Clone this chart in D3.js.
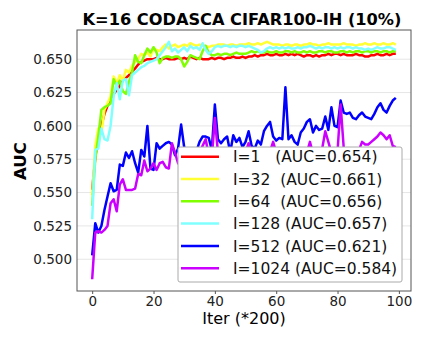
<!DOCTYPE html>
<html>
<head>
<meta charset="utf-8">
<script src="https://cdn.jsdelivr.net/npm/d3@7"></script>
<style>
  body { margin: 0; background: #fff; }
  text { font-family: 'DejaVu Sans', sans-serif; }
</style>
</head>
<body>
<div id="chart"></div>
<script>
// AUC per iteration (x = 0..99, unit *200 iters)
const iters = d3.range(0, 100);

const aucI1 = [
  0.552, 0.576, 0.592, 0.600, 0.609, 0.615, 0.620, 0.624, 0.627, 0.630,
  0.634, 0.636, 0.638, 0.641, 0.643, 0.646, 0.648, 0.649, 0.650, 0.650,
  0.650, 0.651, 0.650, 0.650, 0.651, 0.650, 0.650, 0.650, 0.651, 0.650,
  0.651, 0.650, 0.652, 0.651, 0.650, 0.651, 0.650, 0.650, 0.650, 0.651,
  0.650, 0.651, 0.651, 0.650, 0.651, 0.651, 0.652, 0.651, 0.651, 0.652,
  0.651, 0.652, 0.652, 0.653, 0.652, 0.653, 0.653, 0.654, 0.653, 0.653,
  0.654, 0.653, 0.653, 0.654, 0.653, 0.654, 0.653, 0.654, 0.653, 0.652,
  0.653, 0.653, 0.652, 0.653, 0.652, 0.653, 0.653, 0.654, 0.653, 0.654,
  0.654, 0.653, 0.654, 0.653, 0.653, 0.653, 0.654, 0.653, 0.653, 0.652,
  0.652, 0.653, 0.653, 0.654, 0.653, 0.653, 0.654, 0.653, 0.654, 0.654
];

const aucI32 = [
  0.548, 0.585, 0.598, 0.594, 0.612, 0.617, 0.622, 0.637, 0.632, 0.638,
  0.634, 0.642, 0.640, 0.645, 0.648, 0.650, 0.654, 0.653, 0.655, 0.652,
  0.658, 0.657, 0.656, 0.659, 0.661, 0.658, 0.660, 0.661, 0.659, 0.660,
  0.661, 0.660, 0.662, 0.661, 0.660, 0.661, 0.660, 0.660, 0.659, 0.660,
  0.660, 0.661, 0.661, 0.661, 0.660, 0.661, 0.661, 0.660, 0.661, 0.661,
  0.661, 0.662, 0.661, 0.661, 0.662, 0.661, 0.662, 0.663, 0.662, 0.661,
  0.661, 0.661, 0.660, 0.661, 0.661, 0.660, 0.661, 0.661, 0.660, 0.661,
  0.661, 0.662, 0.661, 0.661, 0.660, 0.661, 0.661, 0.662, 0.661, 0.661,
  0.661, 0.661, 0.662, 0.661, 0.661, 0.661, 0.660, 0.661, 0.661, 0.662,
  0.661, 0.661, 0.662, 0.661, 0.661, 0.662, 0.661, 0.661, 0.662, 0.661
];

const aucI64 = [
  0.540, 0.575, 0.592, 0.612, 0.614, 0.615, 0.617, 0.635, 0.630, 0.634,
  0.626, 0.624, 0.633, 0.640, 0.653, 0.648, 0.647, 0.653, 0.658, 0.655,
  0.659, 0.655, 0.647, 0.651, 0.652, 0.652, 0.651, 0.652, 0.652, 0.650,
  0.6445, 0.648, 0.653, 0.652, 0.651, 0.650, 0.656, 0.660, 0.655, 0.653,
  0.653, 0.654, 0.653, 0.654, 0.654, 0.653, 0.654, 0.655, 0.654, 0.654,
  0.654, 0.655, 0.656, 0.655, 0.656, 0.655, 0.655, 0.656, 0.655, 0.655,
  0.656, 0.655, 0.655, 0.656, 0.656, 0.655, 0.656, 0.655, 0.655, 0.656,
  0.655, 0.656, 0.655, 0.655, 0.656, 0.656, 0.655, 0.656, 0.656, 0.655,
  0.655, 0.656, 0.656, 0.655, 0.656, 0.655, 0.656, 0.656, 0.655, 0.656,
  0.656, 0.655, 0.656, 0.656, 0.655, 0.656, 0.656, 0.655, 0.656, 0.656
];

const aucI128 = [
  0.530, 0.582, 0.583, 0.598, 0.590, 0.589, 0.600, 0.622, 0.632, 0.620,
  0.634, 0.635, 0.623, 0.638, 0.640, 0.642, 0.644, 0.645, 0.647, 0.648,
  0.649, 0.650, 0.653, 0.656, 0.659, 0.663, 0.656, 0.658, 0.655, 0.657,
  0.659, 0.656, 0.660, 0.658, 0.659, 0.657, 0.662, 0.657, 0.654, 0.656,
  0.659, 0.660, 0.659, 0.660, 0.660, 0.659, 0.660, 0.659, 0.660, 0.660,
  0.659, 0.660, 0.659, 0.658, 0.657, 0.655, 0.656, 0.658, 0.659, 0.658,
  0.659, 0.658, 0.659, 0.658, 0.659, 0.658, 0.658, 0.659, 0.658, 0.659,
  0.659, 0.660, 0.659, 0.658, 0.659, 0.658, 0.659, 0.659, 0.658, 0.659,
  0.658, 0.659, 0.658, 0.659, 0.659, 0.658, 0.659, 0.658, 0.658, 0.657,
  0.658, 0.657, 0.658, 0.659, 0.658, 0.658, 0.659, 0.659, 0.658, 0.657
];

const aucI512 = [
  0.503, 0.527, 0.520, 0.525, 0.537, 0.547, 0.557, 0.551, 0.552, 0.571,
  0.570, 0.580, 0.576, 0.581, 0.572, 0.565, 0.582, 0.577, 0.600, 0.568,
  0.567, 0.587, 0.583, 0.585, 0.587, 0.588, 0.586, 0.578, 0.583, 0.601,
  0.584, 0.582, 0.580, 0.578, 0.581, 0.588, 0.592, 0.592, 0.591, 0.582,
  0.616, 0.590, 0.587, 0.590, 0.592, 0.580, 0.593, 0.588, 0.591, 0.584,
  0.588, 0.596, 0.585, 0.583, 0.589, 0.586, 0.596, 0.600, 0.603, 0.592,
  0.589, 0.591, 0.590, 0.629, 0.590, 0.593, 0.588, 0.586, 0.595, 0.598,
  0.603, 0.605, 0.595, 0.600, 0.597, 0.598, 0.607, 0.597, 0.614, 0.600,
  0.599, 0.619, 0.610, 0.609, 0.610, 0.606, 0.605, 0.608, 0.610, 0.607,
  0.606, 0.605, 0.609, 0.614, 0.617, 0.612, 0.610, 0.615, 0.619, 0.621
];

const aucI1024 = [
  0.485, 0.520, 0.521, 0.520, 0.522, 0.525, 0.542, 0.545, 0.536, 0.556,
  0.560, 0.552, 0.552, 0.552, 0.553, 0.564, 0.563, 0.574, 0.566, 0.568,
  0.572, 0.567, 0.572, 0.573, 0.569, 0.568, 0.587, 0.580, 0.572, 0.570,
  0.575, 0.578, 0.574, 0.577, 0.579, 0.580, 0.585, 0.590, 0.578, 0.576,
  0.606, 0.580, 0.578, 0.581, 0.579, 0.582, 0.580, 0.583, 0.579, 0.581,
  0.580, 0.587, 0.578, 0.577, 0.580, 0.578, 0.582, 0.579, 0.581, 0.588,
  0.580, 0.578, 0.579, 0.581, 0.577, 0.580, 0.578, 0.581, 0.579, 0.582,
  0.580, 0.588, 0.579, 0.581, 0.580, 0.583, 0.596, 0.588, 0.580, 0.582,
  0.581, 0.616, 0.584, 0.579, 0.581, 0.580, 0.583, 0.582, 0.588, 0.586,
  0.586, 0.588, 0.590, 0.592, 0.595, 0.593, 0.590, 0.593, 0.585, 0.584
];

const seriesLabels = [
  'I=1   (AUC=0.654)',
  'I=32  (AUC=0.661)',
  'I=64  (AUC=0.656)',
  'I=128 (AUC=0.657)',
  'I=512 (AUC=0.621)',
  'I=1024 (AUC=0.584)'
];
const seriesValues = [aucI1, aucI32, aucI64, aucI128, aucI512, aucI1024];
const seriesColors = ['#ff0000', '#ffff33', '#80ff00', '#80ffff', '#0000ff', '#cc00ff'];

const xTicks = [0, 20, 40, 60, 80, 100];
const yTicks = [0.500, 0.525, 0.550, 0.575, 0.600, 0.625, 0.650];

function renderChart() {
  const W = 423, H = 341;
  const plot = { left: 77, right: 411, top: 30, bottom: 291 };

  const svg = d3.select('#chart')
    .append('svg')
    .attr('width', W)
    .attr('height', H);

  const xScale = d3.scaleLinear()
    .domain([-4.95, 103.95])
    .range([plot.left, plot.right]);

  const yScale = d3.scaleLinear()
    .domain([0.4762, 0.6719])
    .range([plot.bottom, plot.top]);

  // horizontal grid only
  svg.append('g')
    .selectAll('line')
    .data(yTicks)
    .enter()
    .append('line')
    .attr('x1', plot.left)
    .attr('x2', plot.right)
    .attr('y1', d => yScale(d))
    .attr('y2', d => yScale(d))
    .attr('stroke', '#e6e6e6')
    .attr('stroke-width', 1);

  // axes
  const xAxis = d3.axisBottom(xScale).tickValues(xTicks).tickSize(3).tickPadding(2).tickFormat(d3.format('d'));
  const yAxis = d3.axisLeft(yScale).tickValues(yTicks).tickSize(0).tickPadding(5).tickFormat(d3.format('.3f'));

  svg.append('g')
    .attr('transform', `translate(0, ${plot.bottom})`)
    .call(xAxis)
    .call(g => g.select('.domain').remove())
    .call(g => g.selectAll('line').attr('stroke', '#555'))
    .call(g => g.selectAll('text').style('font-size', '13.5px').attr('fill', '#222'));

  svg.append('g')
    .attr('transform', `translate(${plot.left}, 0)`)
    .call(yAxis)
    .call(g => g.select('.domain').remove())
    .call(g => g.selectAll('text').style('font-size', '13.5px').attr('fill', '#222'));

  // lines
  const line = d3.line()
    .x((d, i) => xScale(iters[i]))
    .y(d => yScale(d));

  svg.append('g')
    .selectAll('path')
    .data(seriesValues)
    .enter()
    .append('path')
    .attr('d', d => line(d))
    .style('fill', 'none')
    .style('stroke', (d, i) => seriesColors[i])
    .style('stroke-width', 2.5)
    .style('stroke-linejoin', 'round');

  // frame
  svg.append('rect')
    .attr('x', plot.left)
    .attr('y', plot.top)
    .attr('width', plot.right - plot.left)
    .attr('height', plot.bottom - plot.top)
    .attr('fill', 'none')
    .attr('stroke', '#555')
    .attr('stroke-width', 1);

  // legend
  const legend = svg.append('g');
  legend.append('rect')
    .attr('x', 178)
    .attr('y', 147)
    .attr('width', 224)
    .attr('height', 135)
    .attr('rx', 2)
    .attr('fill', '#fff')
    .attr('stroke', '#aaa')
    .attr('stroke-width', 1);

  const rows = legend.selectAll('.row')
    .data(seriesLabels)
    .enter()
    .append('g')
    .attr('transform', (d, i) => `translate(0, ${156.7 + i * 22.3})`);

  rows.append('line')
    .attr('x1', 181)
    .attr('x2', 219)
    .attr('stroke', (d, i) => seriesColors[i])
    .attr('stroke-width', 2.5);

  rows.append('text')
    .attr('x', 233)
    .attr('y', 5.6)
    .style('font-size', '15.5px')
    .style('white-space', 'pre')
    .attr('fill', '#111')
    .text(d => d);

  // title
  svg.append('text')
    .attr('x', 242)
    .attr('y', 25)
    .attr('text-anchor', 'middle')
    .style('font-size', '16.2px')
    .style('font-weight', 'bold')
    .text('K=16 CODASCA CIFAR100-IH (10%)');

  // X-axis label
  svg.append('text')
    .attr('x', 244)
    .attr('y', 323.5)
    .attr('text-anchor', 'middle')
    .style('font-size', '16px')
    .text('Iter (*200)');

  // Y-axis label
  svg.append('text')
    .attr('transform', 'rotate(-90)')
    .attr('x', -161)
    .attr('y', 26)
    .attr('text-anchor', 'middle')
    .style('font-size', '16.5px')
    .style('font-weight', 'bold')
    .text('AUC');
}

renderChart();
</script>
</body>
</html>
